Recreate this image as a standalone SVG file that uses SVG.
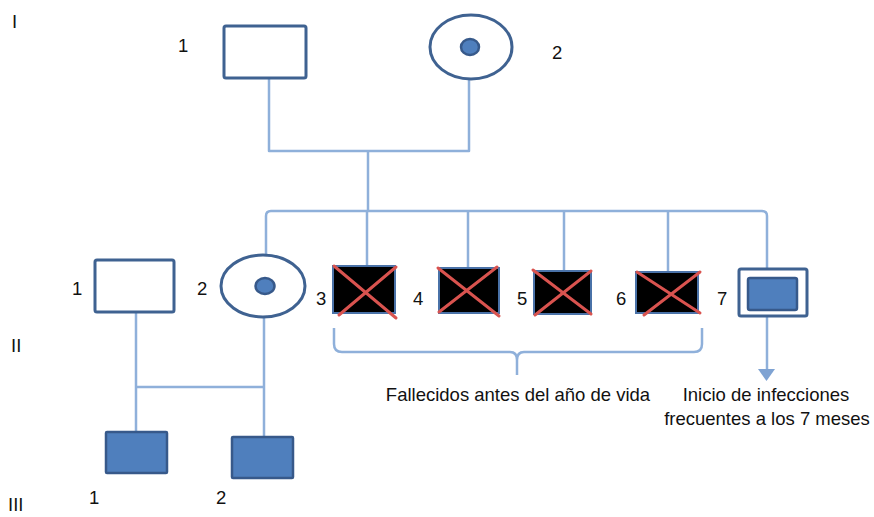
<svg xmlns="http://www.w3.org/2000/svg" width="874" height="517" viewBox="0 0 874 517">
<style>
.t{font-family:"Liberation Sans",Arial,sans-serif;font-size:18.5px;fill:#111}
.ln{fill:none;stroke:#8fb0da;stroke-width:2.5;stroke-linejoin:round}
.nd{fill:#fff;stroke:#3f6291;stroke-width:3}
.fl{fill:#4f7fbd;stroke:#37598a;stroke-width:2.5}
.dead{fill:#000;stroke:#4a72a8;stroke-width:2}
.x{stroke:#d9534f;stroke-width:3;stroke-linecap:round}
</style>
<rect width="874" height="517" fill="#fff"/>
<g id="gen-labels">
<text class="t" x="12" y="28">I</text>
<text class="t" x="11" y="352">II</text>
<text class="t" x="8" y="511">III</text>
</g>
<g id="connectors">
<path class="ln" d="M269 78 V151 H469 V80"/>
<path class="ln" d="M368 151 V211"/>
<path class="ln" d="M266 254 V216 Q266 211 271 211 H762 Q767 211 767 216 V269"/>
<path class="ln" d="M367 211 V266 M468 211 V268 M564 211 V271 M668 211 V272"/>
<path class="ln" d="M136 312 V432 M264 318 V437 M136 387 H264"/>
<path class="ln" d="M334 328 V344 Q334 352 342 352 H510 Q517 352 517 360 V375 M517 360 Q517 352 524 352 H694 Q702 352 702 344 V328"/>
<path class="ln" d="M767 317 V371"/>
<polygon points="758,369 775,369 766.5,381" fill="#7fa3d3"/>
</g>
<g id="I-1">
<rect class="nd" x="224" y="26" width="82" height="52" rx="2"/>
<text class="t" x="178" y="52">1</text>
</g>
<g id="I-2">
<ellipse class="nd" cx="471" cy="47" rx="41" ry="32"/>
<ellipse class="fl" cx="470" cy="47" rx="9" ry="8"/>
<text class="t" x="552" y="59">2</text>
</g>
<g id="II-1">
<rect class="nd" x="95" y="260" width="79" height="52" rx="2"/>
<text class="t" x="72" y="295">1</text>
</g>
<g id="II-2">
<ellipse class="nd" cx="263" cy="286" rx="42" ry="31"/>
<ellipse class="fl" cx="265" cy="286" rx="9.5" ry="8"/>
<text class="t" x="197" y="295">2</text>
</g>
<g id="II-3">
<rect class="dead" x="333" y="266" width="62" height="47"/>
<line class="x" x1="334" y1="266" x2="396" y2="318"/>
<line class="x" x1="396" y1="267" x2="339" y2="315"/>
<text class="t" x="316" y="305">3</text>
</g>
<g id="II-4">
<rect class="dead" x="439" y="268" width="60" height="45"/>
<line class="x" x1="438" y1="268" x2="499" y2="316"/>
<line class="x" x1="497" y1="267" x2="439" y2="312"/>
<text class="t" x="413" y="305">4</text>
</g>
<g id="II-5">
<rect class="dead" x="534" y="271" width="57" height="43"/>
<line class="x" x1="533" y1="270" x2="591" y2="314"/>
<line class="x" x1="591" y1="271" x2="535" y2="315"/>
<text class="t" x="517" y="305">5</text>
</g>
<g id="II-6">
<rect class="dead" x="636" y="272" width="62" height="41"/>
<line class="x" x1="637" y1="272" x2="700" y2="313"/>
<line class="x" x1="700" y1="272" x2="644" y2="315"/>
<text class="t" x="616" y="305">6</text>
</g>
<g id="II-7">
<rect class="nd" x="739" y="269" width="68" height="47" rx="2"/>
<rect class="fl" x="748" y="278" width="49" height="32" rx="2"/>
<text class="t" x="717" y="305">7</text>
</g>
<g id="III-1">
<rect class="fl" x="106" y="432" width="61" height="41" rx="1"/>
<text class="t" x="89" y="504">1</text>
</g>
<g id="III-2">
<rect class="fl" x="232" y="437" width="61" height="41" rx="1"/>
<text class="t" x="216" y="504">2</text>
</g>
<g id="notes">
<text class="t" x="518" y="401" text-anchor="middle">Fallecidos antes del año de vida</text>
<text class="t" x="766" y="401" text-anchor="middle">Inicio de infecciones</text>
<text class="t" x="767" y="425" text-anchor="middle">frecuentes a los 7 meses</text>
</g>
</svg>
